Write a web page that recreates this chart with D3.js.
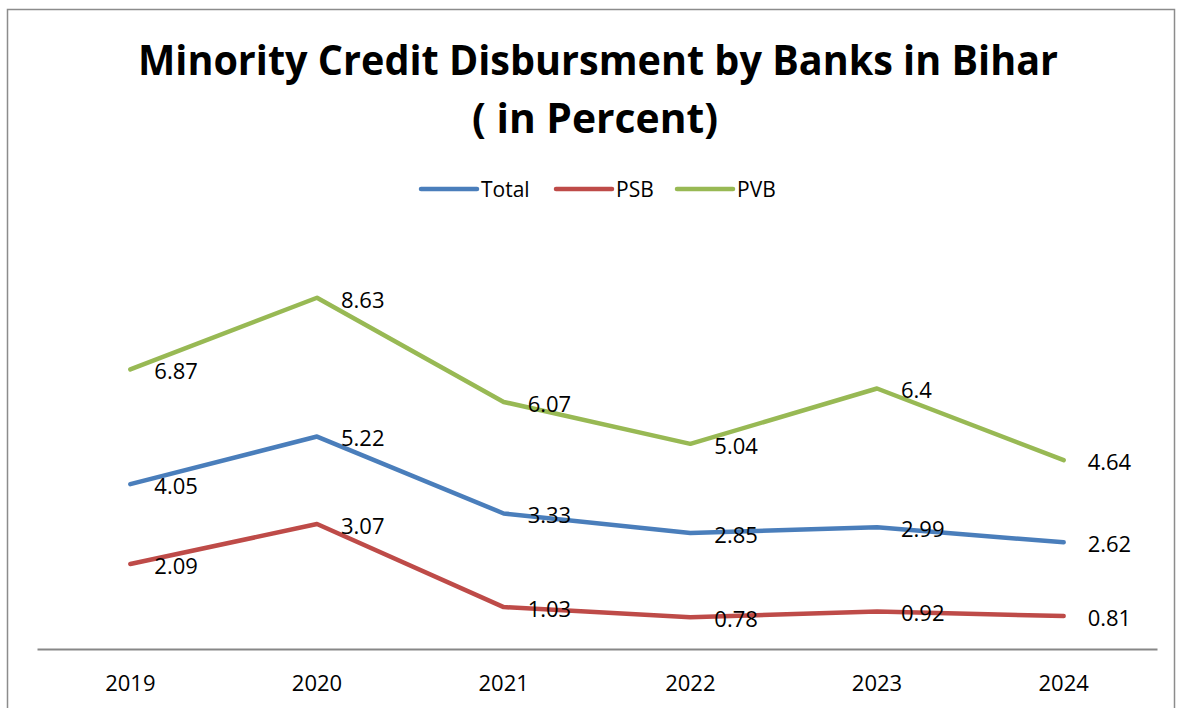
<!DOCTYPE html>
<html>
<head>
<meta charset="utf-8">
<script src="https://cdn.jsdelivr.net/npm/d3@7"></script>
<style>
  body { margin: 0; background: #fff; }
  text { font-family: "Open Sans", "Noto Sans", sans-serif; }
</style>
</head>
<body>
<svg id="chart" width="1182" height="708"></svg>
<script>
// Data
const years = ["2019", "2020", "2021", "2022", "2023", "2024"];
const totalValues = [4.05, 5.22, 3.33, 2.85, 2.99, 2.62];
const psbValues = [2.09, 3.07, 1.03, 0.78, 0.92, 0.81];
const pvbValues = [6.87, 8.63, 6.07, 5.04, 6.4, 4.64];
const seriesNames = ["Total", "PSB", "PVB"];
const seriesColors = ["#4A7EBB", "#BE4B48", "#98B954"];

const series = [totalValues, psbValues, pvbValues].map((vals, i) => ({
  name: seriesNames[i],
  color: seriesColors[i],
  values: vals,
}));

const svg = d3.select("#chart");

// outer frame
svg.append("rect")
  .attr("x", 7.5).attr("y", 9.5)
  .attr("width", 1167).attr("height", 710)
  .attr("fill", "none")
  .attr("stroke", "#8c8c8c")
  .attr("stroke-width", 1.5);

// Title
const title = svg.append("g")
  .attr("font-weight", "bold")
  .attr("font-size", 41)
  .attr("fill", "#000");
title.append("text")
  .attr("x", 138).attr("y", 75)
  .attr("textLength", 920).attr("lengthAdjust", "spacingAndGlyphs")
  .text("Minority Credit Disbursment by Banks in Bihar");
title.append("text")
  .attr("x", 472).attr("y", 133)
  .attr("textLength", 246).attr("lengthAdjust", "spacingAndGlyphs")
  .text("( in Percent)");

// Scales
const x = d3.scaleBand().domain(years).range([37, 1157]);
const y = d3.scaleLinear().domain([0, 10]).range([649, 242]);

// x axis
const xAxis = svg.append("g")
  .attr("transform", "translate(0,649)")
  .call(d3.axisBottom(x).tickSize(0).tickPadding(26));
xAxis.select(".domain").attr("stroke", "#878787").attr("stroke-width", 2);
xAxis.selectAll("text")
  .attr("font-size", 22)
  .attr("fill", "#000")
  .style("font-family", "'Open Sans', sans-serif");

const px = (d, i) => x(years[i]) + x.bandwidth() / 2;

const line = d3.line()
  .x((d, i) => px(d, i))
  .y(d => y(d));

// Lines
svg.selectAll("path.series")
  .data(series)
  .join("path")
  .attr("class", "series")
  .attr("d", d => line(d.values))
  .attr("fill", "none")
  .attr("stroke", d => d.color)
  .attr("stroke-width", 4.5)
  .attr("stroke-linejoin", "round")
  .attr("stroke-linecap", "round");

// Data labels (right of point)
series.forEach(s => {
  svg.append("g")
    .selectAll("text")
    .data(s.values)
    .join("text")
    .attr("x", (d, i) => px(d, i) + 24)
    .attr("y", d => y(d) + 2)
    .attr("dy", "0.36em")
    .attr("font-size", 22)
    .attr("fill", "#000")
    .text(d => d);
});

// Legend
const legendItems = [
  { x: 421, name: "Total", color: seriesColors[0] },
  { x: 556, name: "PSB", color: seriesColors[1] },
  { x: 677, name: "PVB", color: seriesColors[2] },
];
const legend = svg.append("g");
legend.selectAll("line")
  .data(legendItems)
  .join("line")
  .attr("x1", d => d.x).attr("x2", d => d.x + 56)
  .attr("y1", 189).attr("y2", 189)
  .attr("stroke", d => d.color)
  .attr("stroke-width", 4.5)
  .attr("stroke-linecap", "round");
legend.selectAll("text")
  .data(legendItems)
  .join("text")
  .attr("x", d => d.x + 60)
  .attr("y", 189)
  .attr("dy", "0.36em")
  .attr("font-size", 21)
  .attr("fill", "#000")
  .text(d => d.name);
</script>
</body>
</html>
